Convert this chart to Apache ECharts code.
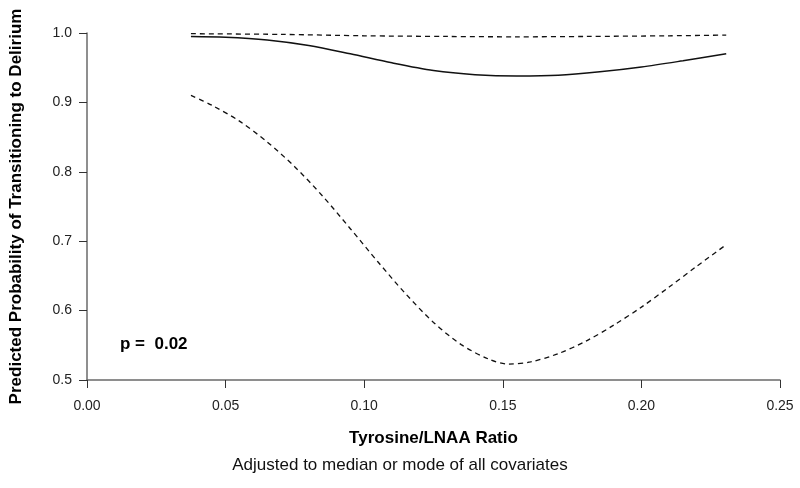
<!DOCTYPE html>
<html>
<head>
<meta charset="utf-8">
<script src="https://cdn.jsdelivr.net/npm/echarts@6/dist/echarts.min.js"></script>
<style>html,body{margin:0;padding:0;background:#fff}#c{width:800px;height:488px}</style>
</head>
<body>
<div id="c"></div>
<script>
// Tyrosine/LNAA ratio values and predicted probabilities
const estX = [0.0375, 0.05, 0.065, 0.08, 0.095, 0.11, 0.125, 0.14, 0.155, 0.17, 0.185, 0.20, 0.215, 0.2306];
const estY = [0.995, 0.994, 0.990, 0.982, 0.970, 0.957, 0.946, 0.940, 0.938, 0.939, 0.944, 0.951, 0.960, 0.970];

const upperX = [0.0375, 0.07, 0.10, 0.13, 0.155, 0.18, 0.21, 0.2306];
const upperY = [0.999, 0.998, 0.996, 0.995, 0.9945, 0.995, 0.996, 0.997];

const lowerX = [0.0375, 0.045, 0.055, 0.065, 0.075, 0.085, 0.095, 0.105, 0.115, 0.125, 0.135, 0.145, 0.152, 0.160, 0.170, 0.180, 0.190, 0.200, 0.210, 0.220, 0.2306];
const lowerY = [0.910, 0.896, 0.873, 0.843, 0.807, 0.765, 0.718, 0.670, 0.624, 0.583, 0.551, 0.530, 0.523, 0.526, 0.538, 0.556, 0.579, 0.605, 0.634, 0.664, 0.695];

const xTicks = [0.00, 0.05, 0.10, 0.15, 0.20, 0.25];
const yTicks = [0.5, 0.6, 0.7, 0.8, 0.9, 1.0];
const pText = 'p =  0.02';

const zip = (xs, ys) => xs.map((x, i) => [x, ys[i]]);
const FONT = 'Liberation Sans, Arial, sans-serif';
const axisCol = '#6a6a6a';

const chart = echarts.init(document.getElementById('c'), null, {renderer: 'canvas'});
chart.setOption({
  animation: false,
  backgroundColor: '#fff',
  grid: {left: 84, right: 20, top: 33, bottom: 108, containLabel: false},
  xAxis: {
    type: 'value', min: xTicks[0], max: xTicks[xTicks.length - 1], interval: 0.05,
    name: 'Tyrosine/LNAA Ratio', nameLocation: 'middle', nameGap: 50,
    nameTextStyle: {fontFamily: FONT, fontWeight: 'bold', fontSize: 17, color: '#000'},
    axisLine: {show: true, onZero: false, lineStyle: {color: axisCol, width: 1.5}},
    axisTick: {show: true, length: 8, inside: false, lineStyle: {color: '#333', width: 1}},
    axisLabel: {fontFamily: FONT, fontSize: 14, color: '#222', margin: 19, formatter: v => v.toFixed(2)},
    splitLine: {show: false}
  },
  yAxis: {
    type: 'value', min: yTicks[0], max: yTicks[yTicks.length - 1], interval: 0.1,
    name: 'Predicted Probability of Transitioning to Delirium', nameLocation: 'middle', nameGap: 62,
    nameTextStyle: {fontFamily: FONT, fontWeight: 'bold', fontSize: 17, color: '#000'},
    axisLine: {show: true, onZero: false, lineStyle: {color: axisCol, width: 1.5}},
    axisTick: {show: true, length: 8, inside: false, lineStyle: {color: '#333', width: 1}},
    axisLabel: {fontFamily: FONT, fontSize: 14, color: '#222', margin: 15, formatter: v => v.toFixed(1)},
    splitLine: {show: false}
  },
  series: [
    {type: 'line', data: zip(estX, estY), smooth: 0.3, showSymbol: false,
     lineStyle: {color: '#111', width: 1.5}},
    {type: 'line', data: zip(upperX, upperY), smooth: 0.3, showSymbol: false,
     lineStyle: {color: '#111', width: 1.3, type: [5, 4]}},
    {type: 'line', data: zip(lowerX, lowerY), smooth: 0.3, showSymbol: false,
     lineStyle: {color: '#111', width: 1.3, type: [5, 4]}}
  ],
  graphic: [
    {type: 'text', left: 120, top: 336,
     style: {text: pText, fontFamily: FONT, fontWeight: 'bold', fontSize: 17, fill: '#000'}},
    {type: 'text', left: 'center', top: 457, x: 32,
     style: {text: 'Adjusted to median or mode of all covariates', fontFamily: FONT, fontSize: 17, fill: '#111'}}
  ]
});
</script>
</body>
</html>
